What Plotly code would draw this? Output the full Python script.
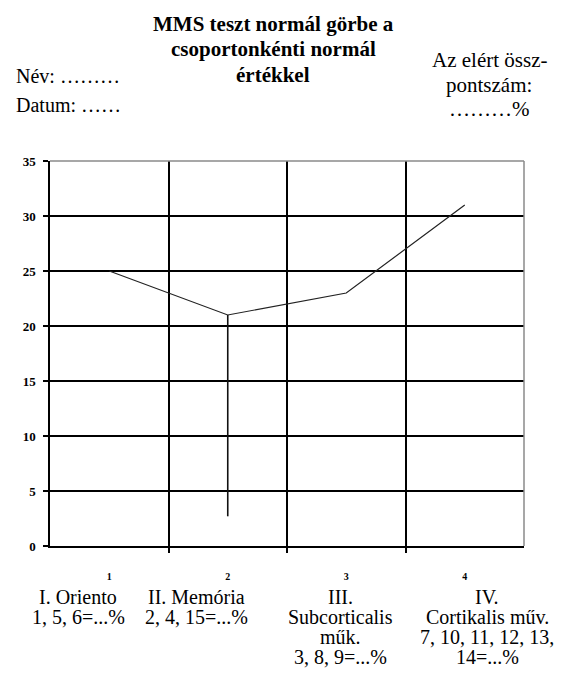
import plotly.graph_objects as go

categories = [1, 2, 3, 4]
tick_labels = ["1", "2", "3", "4"]
values = [25, 21, 23, 31]
drop_x = [2, 2]
drop_y = [21, 2.7]
group_labels = [
    ["I. Oriento", "1, 5, 6=...%"],
    ["II. Memória", "2, 4, 15=...%"],
    ["III.", "Subcorticalis", "műk.", "3, 8, 9=...%"],
    ["IV.", "Cortikalis műv.", "7, 10, 11, 12, 13,", "14=...%"],
]
group_label_x = [0.74, 1.74, 2.95, 4.19]
title_lines = ["MMS teszt normál görbe a", "csoportonkénti normál", "értékkel"]
left_lines = ["Név: ………", "Datum: ……"]
right_lines = ["Az elért össz-", "pontszám:", "………%"]
y_ticks = [0, 5, 10, 15, 20, 25, 30, 35]

SERIF = "'Times New Roman', 'Liberation Serif', 'DejaVu Serif', serif"
W, H = 567, 678
L, R, T, B = 50, 43, 161, 132
PW, PH = W - L - R, H - T - B

def py(ypix):
    return (H - B - ypix) / PH

def pxx(xpix):
    return (xpix - L) / PW

fig = go.Figure()
fig.add_trace(go.Scatter(x=categories, y=values, mode="lines",
                         line=dict(color="#222222", width=1.2), showlegend=False,
                         hoverinfo="skip"))
fig.add_trace(go.Scatter(x=drop_x, y=drop_y, mode="lines",
                         line=dict(color="#111111", width=1.6), showlegend=False,
                         hoverinfo="skip"))

fig.update_layout(
    width=W, height=H,
    margin=dict(l=L, r=R, t=T, b=B, pad=0),
    paper_bgcolor="white", plot_bgcolor="white",
    font=dict(family=SERIF, color="black"),
    xaxis=dict(
        range=[0.5, 4.5], showgrid=False, zeroline=False, automargin=False,
        tickvals=categories, ticktext=tick_labels, ticks="", ticklabelstandoff=20,
        tickfont=dict(family=SERIF, size=10, color="black", weight="bold"),
        showline=True, linecolor="black", linewidth=1.5,
        minor=dict(tickvals=[1.5, 2.5, 3.5], showgrid=True, gridcolor="black",
                   gridwidth=1.5, ticks="outside", ticklen=5, tickcolor="black",
                   tickwidth=1.5),
        fixedrange=True,
    ),
    yaxis=dict(
        range=[0, 35], tickvals=y_ticks, showgrid=False, zeroline=False, automargin=False,
        showline=True, linecolor="black", linewidth=1.5,
        ticks="outside", ticklen=5, tickcolor="black", tickwidth=1.5,
        ticklabelstandoff=5,
        tickfont=dict(family=SERIF, size=13, color="black", weight="bold"),
        minor=dict(tickvals=[5, 10, 15, 20, 25, 30], showgrid=True,
                   gridcolor="black", gridwidth=1.5, ticks=""),
        fixedrange=True,
    ),
    shapes=[
        dict(type="line", xref="paper", yref="paper", x0=0, x1=1, y0=1, y1=1,
             line=dict(color="#8a8a8a", width=1.5)),
        dict(type="line", xref="paper", yref="paper", x0=1, x1=1, y0=0, y1=1,
             line=dict(color="#8a8a8a", width=1.5)),
    ],
)

annotations = []
cat_line_y = [597, 617, 637, 657]
for gx, lines in zip(group_label_x, group_labels):
    for i, txt in enumerate(lines):
        annotations.append(dict(x=gx, y=py(cat_line_y[i]), xref="x", yref="paper",
                                text=txt, showarrow=False, xanchor="center",
                                yanchor="middle",
                                font=dict(family=SERIF, size=20, color="black")))

for i, txt in enumerate(title_lines):
    annotations.append(dict(x=pxx(273), y=py(24 + 25.5 * i), xref="paper", yref="paper",
                            text="<b>" + txt + "</b>", showarrow=False,
                            xanchor="center", yanchor="middle",
                            font=dict(family=SERIF, size=21, color="black")))
for i, txt in enumerate(left_lines):
    annotations.append(dict(x=pxx(14), y=py(76 + 29 * i), xref="paper", yref="paper",
                            text=txt, showarrow=False, xanchor="left", yanchor="middle",
                            font=dict(family=SERIF, size=20, color="black")))
for i, txt in enumerate(right_lines):
    annotations.append(dict(x=pxx(489), y=py(60 + 24.5 * i), xref="paper", yref="paper",
                            text=txt, showarrow=False, xanchor="center", yanchor="middle",
                            font=dict(family=SERIF, size=21, color="black")))

fig.update_layout(annotations=annotations)
fig.write_html("out.html", config={"displayModeBar": False},
               post_script="document.body.style.margin='0px';")
